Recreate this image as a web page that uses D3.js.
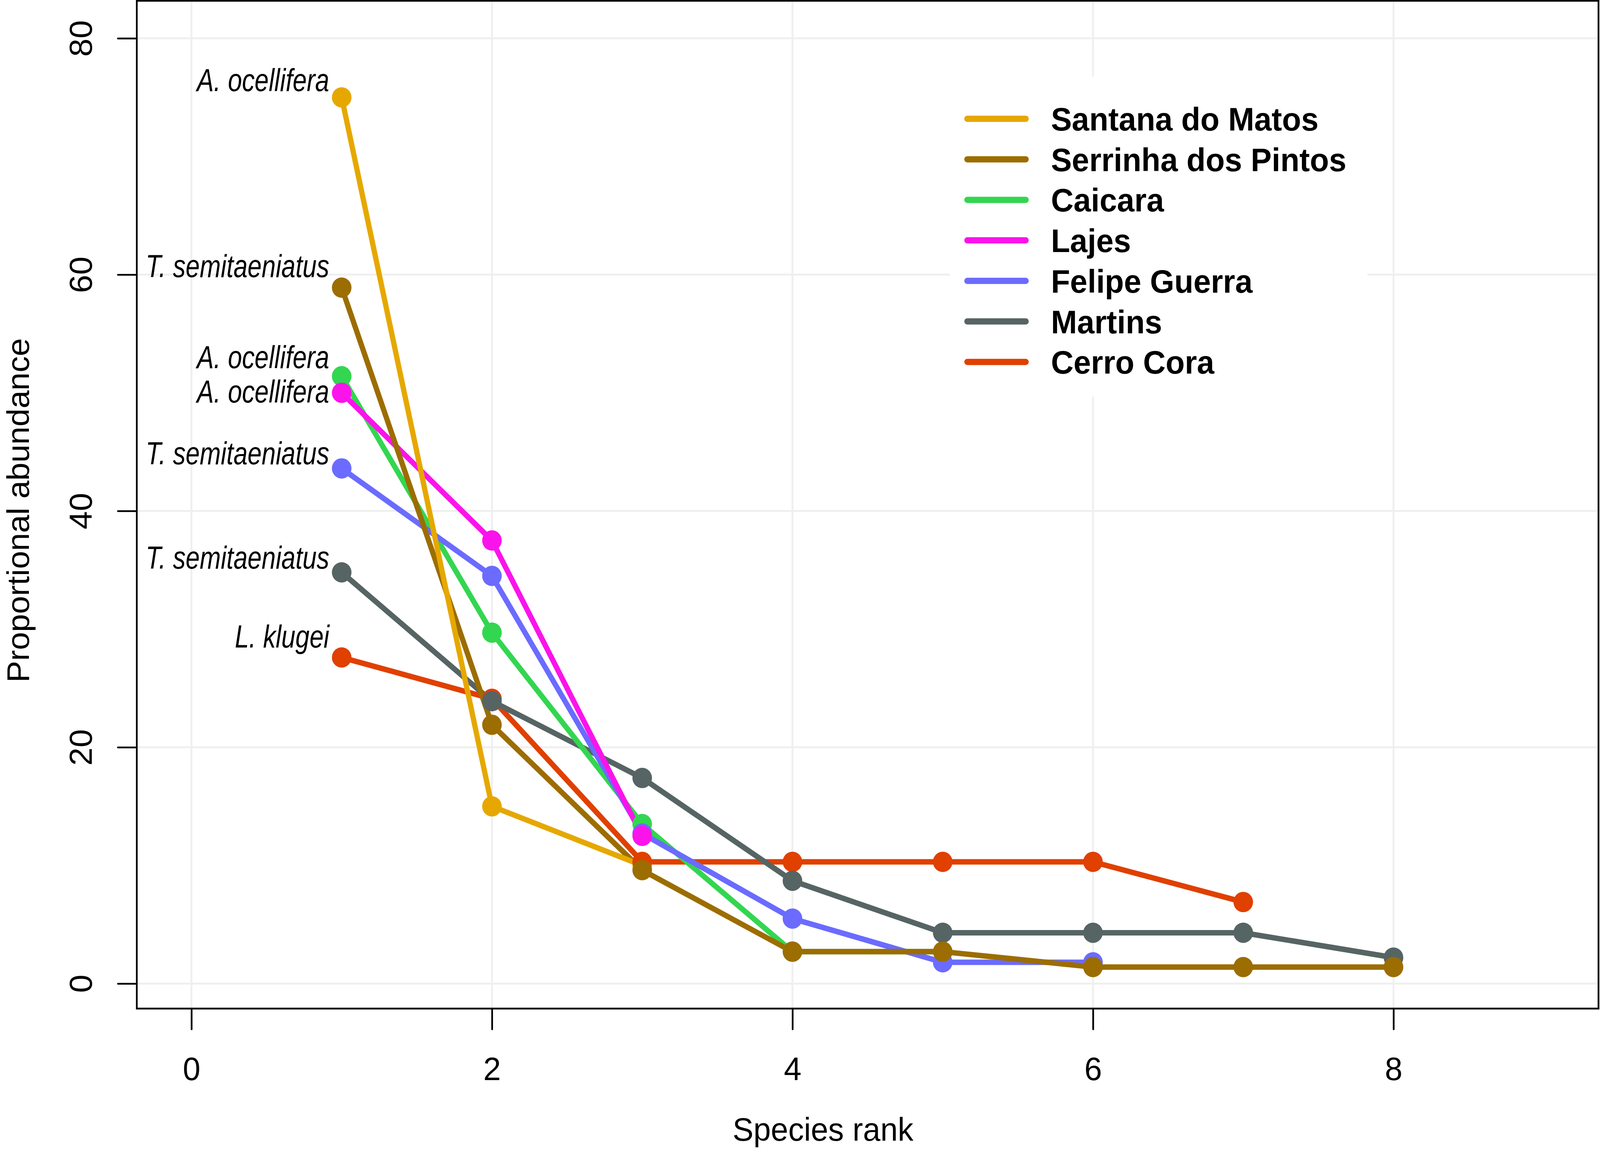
<!DOCTYPE html>
<html lang="en">

<head>
    <meta charset="UTF-8">
    <title>Species rank abundance</title>
    <style>
        html, body { margin: 0; padding: 0; background: #fff; overflow: hidden; }
        svg { display: block; width: 100vw; height: 100vh; }
    </style>
</head>

<body>
    <script src="https://cdn.jsdelivr.net/npm/d3@7"></script>
    <script>
        const svg_w = 4246;
        const svg_h = 2948;

        // one series per locality, in legend order
        const sites = ['Santana do Matos', 'Serrinha dos Pintos', 'Caicara', 'Lajes', 'Felipe Guerra', 'Martins', 'Cerro Cora'];
        const santana = [75.0, 15.0, 10.0];
        const serrinha = [58.9, 21.9, 9.6, 2.7, 2.7, 1.4, 1.4, 1.4];
        const caicara = [51.4, 29.7, 13.5, 2.7, 2.7];
        const lajes = [50.0, 37.5, 12.5];
        const felipe = [43.6, 34.5, 12.7, 5.5, 1.8, 1.8];
        const martins = [34.8, 23.9, 17.4, 8.7, 4.3, 4.3, 4.3, 2.2];
        const cerro = [27.6, 24.1, 10.3, 10.3, 10.3, 10.3, 6.9];
        // dominant species of each site (rank 1)
        const topSpecies = ['A. ocellifera', 'T. semitaeniatus', 'A. ocellifera', 'A. ocellifera', 'T. semitaeniatus', 'T. semitaeniatus', 'L. klugei'];

        const xTicks = [0, 2, 4, 6, 8];
        const yTicks = [0, 20, 40, 60, 80];

        const colors = ['#E6A800', '#9C6D00', '#33D650', '#FB13EB', '#6B6BFF', '#566464', '#E04000'];
        // vertical shift of the rank-1 labels, px
        const labelNudge = [-16, -27, -21, 25, -11, -10, -25];
        // stacking order
        const lineOrder = [6, 5, 2, 4, 3, 1, 0];
        const pointOrder = [0, 6, 2, 4, 3, 5, 1];

        const allSeries = [santana, serrinha, caicara, lajes, felipe, martins, cerro];

        const box = { left: 363, right: 4242, top: 2, bottom: 2581 };
        const font = '"Liberation Sans", Arial, Helvetica, sans-serif';

        const x = d3.scaleLinear().domain([0, 8]).range([508, 3698]);
        const y = d3.scaleLinear().domain([0, 80]).range([2517, 98]);

        // viewBox stretched to whatever the window really is
        const svg = d3.select('body')
            .append('svg')
            .attr('viewBox', `0 0 ${svg_w} ${svg_h}`)
            .attr('preserveAspectRatio', 'none')
            .style('background-color', 'white');

        // grid
        const grid = svg.append('g').attr('stroke', '#EFEFEF').attr('stroke-width', 5);
        grid.selectAll('line.v')
            .data(xTicks)
            .enter()
            .append('line')
            .attr('class', 'v')
            .attr('x1', d => x(d)).attr('x2', d => x(d))
            .attr('y1', box.top).attr('y2', box.bottom);
        grid.selectAll('line.h')
            .data(yTicks)
            .enter()
            .append('line')
            .attr('class', 'h')
            .attr('x1', box.left).attr('x2', box.right)
            .attr('y1', d => y(d)).attr('y2', d => y(d));

        // axes
        const yAxis = svg.append('g')
            .attr('transform', `translate(${box.left},0)`)
            .call(d3.axisLeft(y).tickValues(yTicks).tickSize(50).tickFormat(d3.format('d')));
        yAxis.select('.domain').remove();
        yAxis.selectAll('.tick line').attr('stroke', '#000').attr('stroke-width', 4.6).attr('stroke-linecap', 'round');
        yAxis.selectAll('.tick text')
            .attr('transform', 'rotate(-90)')
            .attr('x', 0)
            .attr('y', -119)
            .attr('dy', 0)
            .attr('text-anchor', 'middle')
            .attr('fill', '#000')
            .style('font-family', font)
            .style('font-size', '84px');

        const xAxis = svg.append('g')
            .attr('transform', `translate(0,${box.bottom})`)
            .call(d3.axisBottom(x).tickValues(xTicks).tickSize(53).tickFormat(d3.format('d')));
        xAxis.select('.domain').remove();
        xAxis.selectAll('.tick line').attr('stroke', '#000').attr('stroke-width', 4.6).attr('stroke-linecap', 'round');
        xAxis.selectAll('.tick text')
            .attr('y', 183)
            .attr('dy', 0)
            .attr('fill', '#000')
            .style('font-family', font)
            .style('font-size', '84px');

        svg.append('text')
            .attr('x', 2184)
            .attr('y', 2919)
            .attr('text-anchor', 'middle')
            .style('font-family', font)
            .style('font-size', '83px')
            .text('Species rank');

        svg.append('text')
            .attr('transform', 'translate(77,1306) rotate(-90)')
            .attr('text-anchor', 'middle')
            .style('font-family', font)
            .style('font-size', '83px')
            .text('Proportional abundance');

        // lines then points
        const line = d3.line()
            .x((d, i) => x(i + 1))
            .y(d => y(d));

        svg.append('g')
            .selectAll('path')
            .data(lineOrder)
            .enter()
            .append('path')
            .attr('d', k => line(allSeries[k]))
            .attr('fill', 'none')
            .attr('stroke', k => colors[k])
            .attr('stroke-width', 14)
            .attr('stroke-linejoin', 'round')
            .attr('stroke-linecap', 'round');

        pointOrder.forEach(k => {
            svg.append('g')
                .selectAll('circle')
                .data(allSeries[k])
                .enter()
                .append('circle')
                .attr('cx', (d, i) => x(i + 1))
                .attr('cy', d => y(d))
                .attr('r', 26)
                .attr('fill', colors[k]);
        });

        // names of the dominant species, narrow italic
        svg.append('g')
            .selectAll('g')
            .data(topSpecies)
            .enter()
            .append('g')
            .attr('transform', (d, k) => `translate(${x(1) - 33},${y(allSeries[k][0]) + labelNudge[k]}) scale(0.83,1)`)
            .append('text')
            .attr('text-anchor', 'end')
            .style('font-family', font)
            .style('font-style', 'italic')
            .style('font-size', '81px')
            .text(d => d);

        // legend
        const legend = svg.append('g');
        legend.append('rect')
            .attr('x', 2521).attr('y', 196)
            .attr('width', 1108).attr('height', 819)
            .attr('fill', 'white');

        const rowStep = 103.7;
        const rows = legend.selectAll('g.row')
            .data(sites)
            .enter()
            .append('g')
            .attr('class', 'row')
            .attr('transform', (d, i) => `translate(0,${304 + i * rowStep})`);
        rows.append('line')
            .attr('x1', 2567).attr('x2', 2722)
            .attr('y1', 0).attr('y2', 0)
            .attr('stroke', (d, i) => colors[i])
            .attr('stroke-width', 16)
            .attr('stroke-linecap', 'round');
        rows.append('text')
            .attr('x', 2789)
            .attr('y', 30)
            .style('font-family', font)
            .style('font-weight', 'bold')
            .style('font-size', '83px')
            .text(d => d);

        // frame
        svg.append('rect')
            .attr('x', box.left).attr('y', box.top)
            .attr('width', box.right - box.left)
            .attr('height', box.bottom - box.top)
            .attr('fill', 'none')
            .attr('stroke', '#000')
            .attr('stroke-width', 4.6);
    </script>
</body>

</html>
